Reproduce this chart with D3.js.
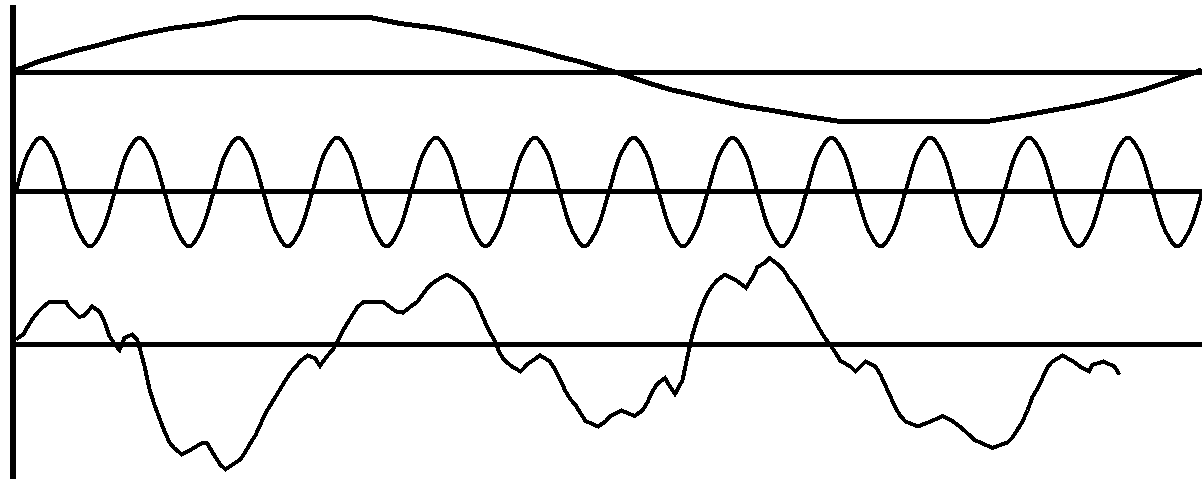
<!DOCTYPE html>
<html>
<head>
<meta charset="utf-8">
<script src="https://cdn.jsdelivr.net/npm/d3@7"></script>
<style>
  html, body { margin: 0; padding: 0; background: #fff; overflow: hidden; }
  svg { display: block; }
</style>
</head>
<body>
<svg id="chart" width="1202" height="479"></svg>
<script>
// ---- Data (time in ms, amplitude normalised) ----
// Slow wave: one period across the record
const slowT = [0, 7.5, 22.5, 40, 60.5, 81, 101, 124, 154.5, 192.5, 224, 289, 354, 384.5, 423, 453.5, 479, 502, 522, 542.5, 563, 583, 600.5, 616, 634, 654, 677, 700, 725, 755.5, 791, 824, 897, 971, 1002, 1035, 1062.5, 1088, 1111, 1128.5, 1146.5, 1164.5, 1179, 1186];
const slowV = [0.05, 0.09, 0.2, 0.29, 0.4, 0.49, 0.59, 0.69, 0.8, 0.89, 1.0, 1.0, 1.0, 0.89, 0.8, 0.69, 0.59, 0.49, 0.4, 0.29, 0.2, 0.09, 0, -0.09, -0.2, -0.31, -0.4, -0.5, -0.6, -0.69, -0.8, -0.89, -0.89, -0.89, -0.8, -0.69, -0.6, -0.5, -0.4, -0.31, -0.2, -0.09, 0, 0.05];

// Fast wave: 12 periods, sampled 8 times per period
const fastSamplePeriod = 1186 / 96;
const fastV = [
  0, 0.7, 0.98, 0.7, 0, -0.7, -1, -0.7,
  0, 0.7, 0.98, 0.7, 0, -0.7, -1, -0.7,
  0, 0.7, 0.98, 0.7, 0, -0.7, -1, -0.7,
  0, 0.7, 0.98, 0.7, 0, -0.7, -1, -0.7,
  0, 0.7, 0.98, 0.7, 0, -0.7, -1, -0.7,
  0, 0.7, 0.98, 0.7, 0, -0.7, -1, -0.7,
  0, 0.7, 0.98, 0.7, 0, -0.7, -1, -0.7,
  0, 0.7, 0.98, 0.7, 0, -0.7, -1, -0.7,
  0, 0.7, 0.98, 0.7, 0, -0.7, -1, -0.7,
  0, 0.7, 0.98, 0.7, 0, -0.7, -1, -0.7,
  0, 0.7, 0.98, 0.7, 0, -0.7, -1, -0.7,
  0, 0.7, 0.98, 0.7, 0, -0.7, -1, -0.7,
  0
];
const fastT = fastV.map((_, i) => i * fastSamplePeriod);

// Noisy signal
const noisyT = [0, 7.5, 12.5, 17.5, 22.5, 27.5, 34, 50, 52.5, 57.5, 63, 68, 76, 83.5, 88.5, 93.5, 98.5, 103.5, 108.5, 116, 121, 123.5, 128.5, 133.5, 138.5, 143.5, 148.5, 153.5, 158.5, 166, 176, 186, 191, 194.5, 199.5, 204.5, 209.5, 217, 224.5, 229.5, 234.5, 239.5, 244.5, 249.5, 254.5, 259.5, 264.5, 269.5, 274.5, 279.5, 284.5, 291.5, 299, 304, 311.5, 316.5, 321.5, 326.5, 331.5, 336.5, 341.5, 348, 367, 373.5, 380, 387, 394, 401.5, 407.5, 413.5, 421, 431, 441, 448.5, 453.5, 458.5, 463.5, 468.5, 473.5, 478.5, 483.5, 488.5, 496, 504.5, 512, 524, 533.5, 539, 544.5, 549.5, 554.5, 559.5, 564.5, 569.5, 582, 589.5, 594.5, 605.5, 618.5, 626.5, 631.5, 636.5, 641.5, 649, 653.5, 659, 666.5, 671.5, 676.5, 681.5, 686.5, 691.5, 696.5, 701.5, 709, 720, 730, 736.5, 741.5, 747.5, 753.5, 761, 768.5, 773.5, 778.5, 783, 789.5, 794.5, 798.5, 803.5, 808.5, 814, 819.5, 824.5, 834.5, 839.5, 849.5, 859.5, 864.5, 869.5, 874.5, 879.5, 884.5, 889.5, 902, 914.5, 927, 937, 944.5, 950.5, 959, 976.5, 991.5, 996.5, 1001.5, 1006.5, 1011.5, 1016.5, 1021.5, 1026.5, 1031.5, 1036.5, 1046.5, 1056.5, 1064, 1073, 1076.5, 1087.5, 1098.5, 1103.5];
const noisyV = [0.09, 0.19, 0.35, 0.49, 0.6, 0.69, 0.78, 0.78, 0.69, 0.6, 0.5, 0.52, 0.69, 0.6, 0.41, 0.15, 0.01, -0.1, 0.12, 0.18, 0.09, -0.05, -0.39, -0.81, -1.1, -1.34, -1.58, -1.78, -1.89, -2.0, -1.9, -1.79, -1.79, -1.9, -2.05, -2.19, -2.27, -2.18, -2.09, -1.95, -1.79, -1.65, -1.45, -1.25, -1.1, -0.95, -0.8, -0.65, -0.51, -0.41, -0.3, -0.2, -0.25, -0.39, -0.2, -0.1, 0.05, 0.24, 0.39, 0.54, 0.68, 0.78, 0.78, 0.69, 0.6, 0.58, 0.68, 0.78, 0.93, 1.07, 1.17, 1.27, 1.17, 1.07, 0.97, 0.84, 0.64, 0.43, 0.23, 0.08, -0.15, -0.29, -0.4, -0.49, -0.35, -0.2, -0.3, -0.45, -0.65, -0.85, -1.0, -1.1, -1.25, -1.39, -1.49, -1.4, -1.3, -1.2, -1.3, -1.2, -1.05, -0.85, -0.71, -0.61, -0.75, -0.9, -0.65, -0.22, 0.18, 0.48, 0.73, 0.93, 1.07, 1.17, 1.27, 1.17, 1.03, 1.22, 1.41, 1.47, 1.57, 1.47, 1.33, 1.17, 1.07, 0.94, 0.74, 0.58, 0.44, 0.28, 0.13, 0, -0.15, -0.3, -0.4, -0.49, -0.31, -0.4, -0.55, -0.75, -0.95, -1.15, -1.3, -1.4, -1.49, -1.4, -1.3, -1.4, -1.5, -1.6, -1.74, -1.88, -1.78, -1.69, -1.55, -1.4, -1.2, -0.95, -0.8, -0.61, -0.41, -0.31, -0.2, -0.3, -0.4, -0.49, -0.37, -0.31, -0.4, -0.55];

// ---- Layout ----
const W = 1202, H = 479;
const svg = d3.select("#chart");
svg.append("rect").attr("width", W).attr("height", H).attr("fill", "#fff");

const x = d3.scaleLinear().domain([0, 1186]).range([16, 1202]);
const panels = [
  { t: slowT, v: slowV, y: d3.scaleLinear().domain([-1, 1]).range([127.5, 17.5]), curve: d3.curveLinear, sw: 5 },
  { t: fastT, v: fastV, y: d3.scaleLinear().domain([-1, 1]).range([246.5, 136.5]), curve: d3.curveCatmullRom, sw: 4 },
  { t: noisyT, v: noisyV, y: d3.scaleLinear().domain([-1, 1]).range([399.5, 289.5]), curve: d3.curveLinear, sw: 4 }
];

const g = svg.append("g").attr("shape-rendering", "crispEdges");

// zero lines
panels.forEach(p => {
  g.append("line")
    .attr("x1", 10).attr("x2", W)
    .attr("y1", p.y(0)).attr("y2", p.y(0))
    .attr("stroke", "#000").attr("stroke-width", 5);
});

// vertical axis
g.append("line")
  .attr("x1", 13).attr("x2", 13)
  .attr("y1", 5).attr("y2", H)
  .attr("stroke", "#000").attr("stroke-width", 6);

// signals
panels.forEach(p => {
  const pts = p.t.map((t, i) => [t, p.v[i]]);
  const line = d3.line().x(d => x(d[0])).y(d => p.y(d[1])).curve(p.curve);
  g.append("path")
    .attr("d", line(pts))
    .attr("fill", "none")
    .attr("stroke", "#000")
    .attr("stroke-width", p.sw)
    .attr("stroke-linejoin", "miter")
    .attr("stroke-linecap", "butt");
});
</script>
</body>
</html>
